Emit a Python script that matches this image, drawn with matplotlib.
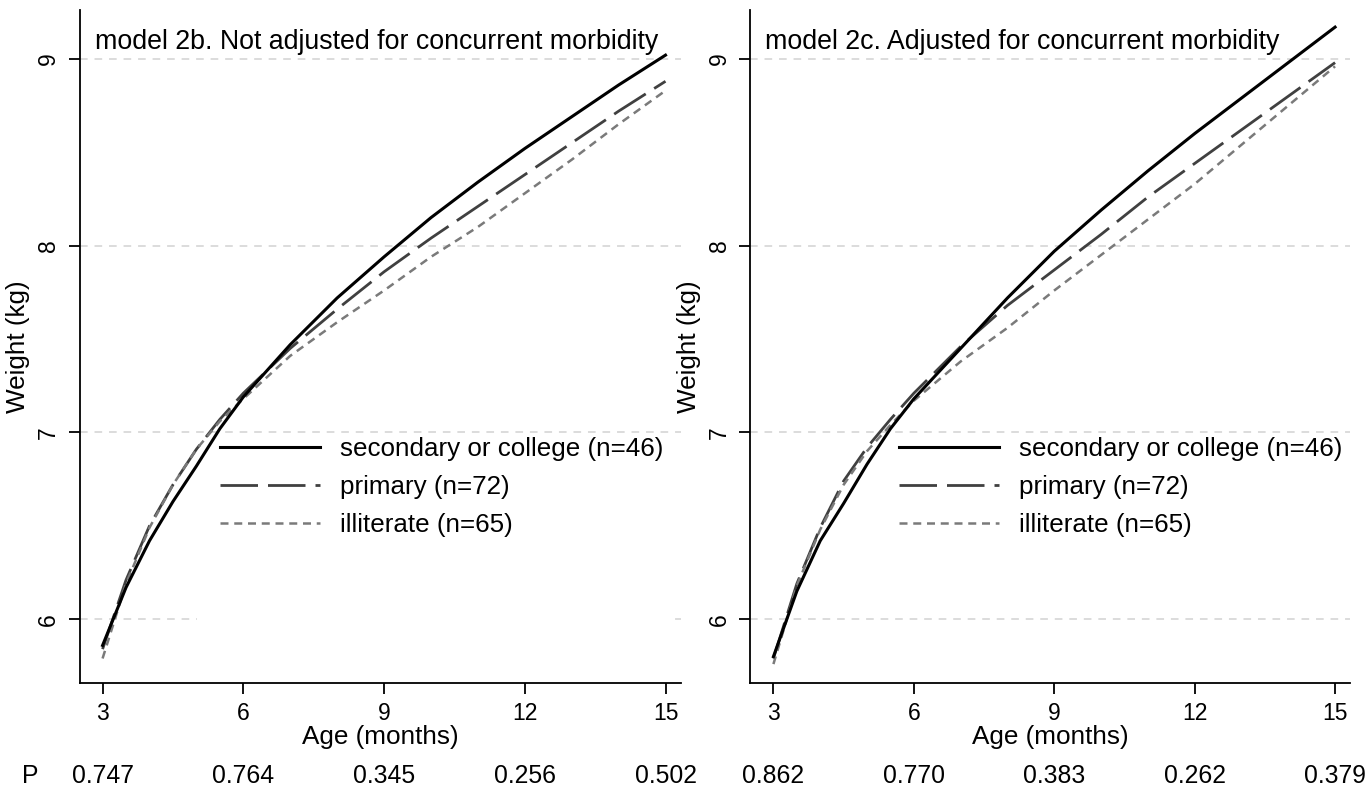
import matplotlib
matplotlib.use('Agg')
import matplotlib.pyplot as plt
from matplotlib.patches import Rectangle

plt.rcParams['font.family'] = ['Liberation Sans', 'DejaVu Sans']

# data
age = [3, 3.5, 4, 4.5, 5, 5.5, 6, 7, 8, 9, 10, 11, 12, 13, 14, 15]

# model 2b (not adjusted)
sec_2b = [5.86, 6.17, 6.42, 6.63, 6.82, 7.02, 7.19, 7.47, 7.72, 7.94, 8.15, 8.34, 8.52, 8.69, 8.86, 9.02]
pri_2b = [5.84, 6.21, 6.50, 6.72, 6.91, 7.07, 7.21, 7.45, 7.66, 7.86, 8.04, 8.21, 8.38, 8.55, 8.72, 8.88]
ill_2b = [5.79, 6.19, 6.49, 6.72, 6.91, 7.06, 7.18, 7.41, 7.59, 7.76, 7.94, 8.10, 8.28, 8.46, 8.65, 8.83]

# model 2c (adjusted)
sec_2c = [5.80, 6.15, 6.42, 6.62, 6.83, 7.02, 7.18, 7.45, 7.72, 7.97, 8.19, 8.40, 8.60, 8.79, 8.98, 9.17]
pri_2c = [5.79, 6.19, 6.49, 6.74, 6.92, 7.07, 7.21, 7.46, 7.68, 7.87, 8.06, 8.26, 8.44, 8.62, 8.80, 8.98]
ill_2c = [5.76, 6.18, 6.48, 6.72, 6.90, 7.04, 7.17, 7.38, 7.56, 7.76, 7.95, 8.14, 8.33, 8.54, 8.75, 8.96]

x_ticks = [3, 6, 9, 12, 15]
y_ticks = [6, 7, 8, 9]
p_2b = ['0.747', '0.764', '0.345', '0.256', '0.502']
p_2c = ['0.862', '0.770', '0.383', '0.262', '0.379']

labels = ['secondary or college (n=46)', 'primary (n=72)', 'illiterate (n=65)']
titles = ['model 2b. Not adjusted for concurrent morbidity',
          'model 2c. Adjusted for concurrent morbidity']

fig = plt.figure(figsize=(13.72, 7.93), dpi=100)
ax1 = fig.add_axes([0.058, 0.139, 0.438, 0.848])
ax2 = fig.add_axes([0.547, 0.139, 0.437, 0.848])

panels = [(ax1, sec_2b, pri_2b, ill_2b, p_2b, titles[0], 0.233, True),
          (ax2, sec_2c, pri_2c, ill_2c, p_2c, titles[1], 0.247, False)]

for ax, sec, pri, ill, pvals, title, leg_x, cover in panels:
    for y in y_ticks:
        ax.axhline(y, color='#d2d2d2', lw=1.1, ls=(0, (5, 4.5)), zorder=0.5)
    if cover:
        # white legend background hides part of the grid in the left panel
        ax.add_patch(Rectangle((0.195, 0.086), 0.795, 0.274, transform=ax.transAxes,
                               facecolor='white', edgecolor='none', zorder=0.8))

    ax.plot(age, sec, color='black', lw=2.2, ls='-', label=labels[0], zorder=3)
    ax.plot(age, pri, color='#404040', lw=2.0, ls=(0, (13.5, 3.6)), label=labels[1], zorder=2)
    ax.plot(age, ill, color='#7a7a7a', lw=1.8, ls=(0, (3.2, 2.3)), label=labels[2], zorder=2)

    ax.set_xlim(2.51, 15.32)
    ax.set_ylim(5.66, 9.26)
    ax.set_xticks(x_ticks)
    ax.set_yticks(y_ticks)
    ax.tick_params(axis='both', direction='out', length=8, width=1.3,
                   labelsize=16.5, pad=6)
    for lab in ax.get_yticklabels():
        lab.set_rotation(90)
        lab.set_va('center')
    for s in ['top', 'right']:
        ax.spines[s].set_visible(False)
    for s in ['left', 'bottom']:
        ax.spines[s].set_linewidth(1.3)

    ax.set_xlabel('Age (months)', fontsize=18.8, labelpad=0)
    ax.set_ylabel('Weight (kg)', fontsize=18.8, labelpad=5)
    ax.text(0.025, 0.953, title, transform=ax.transAxes, fontsize=19.3,
            ha='left', va='center')

    ax.legend(loc='upper left', bbox_to_anchor=(leg_x, 0.365), frameon=False,
              fontsize=18.7, handlelength=3.85, handletextpad=0.77,
              labelspacing=0.53, borderpad=0, borderaxespad=0)

    trans = ax.get_xaxis_transform()
    for xv, pv in zip(x_ticks, pvals):
        ax.text(xv, -0.138, pv, transform=trans, fontsize=17.8,
                ha='center', va='center')

fig.text(30 / 1372, 1 - 776 / 793, 'P', fontsize=17.8, ha='center', va='center')

fig.savefig('out.png', dpi=100)
